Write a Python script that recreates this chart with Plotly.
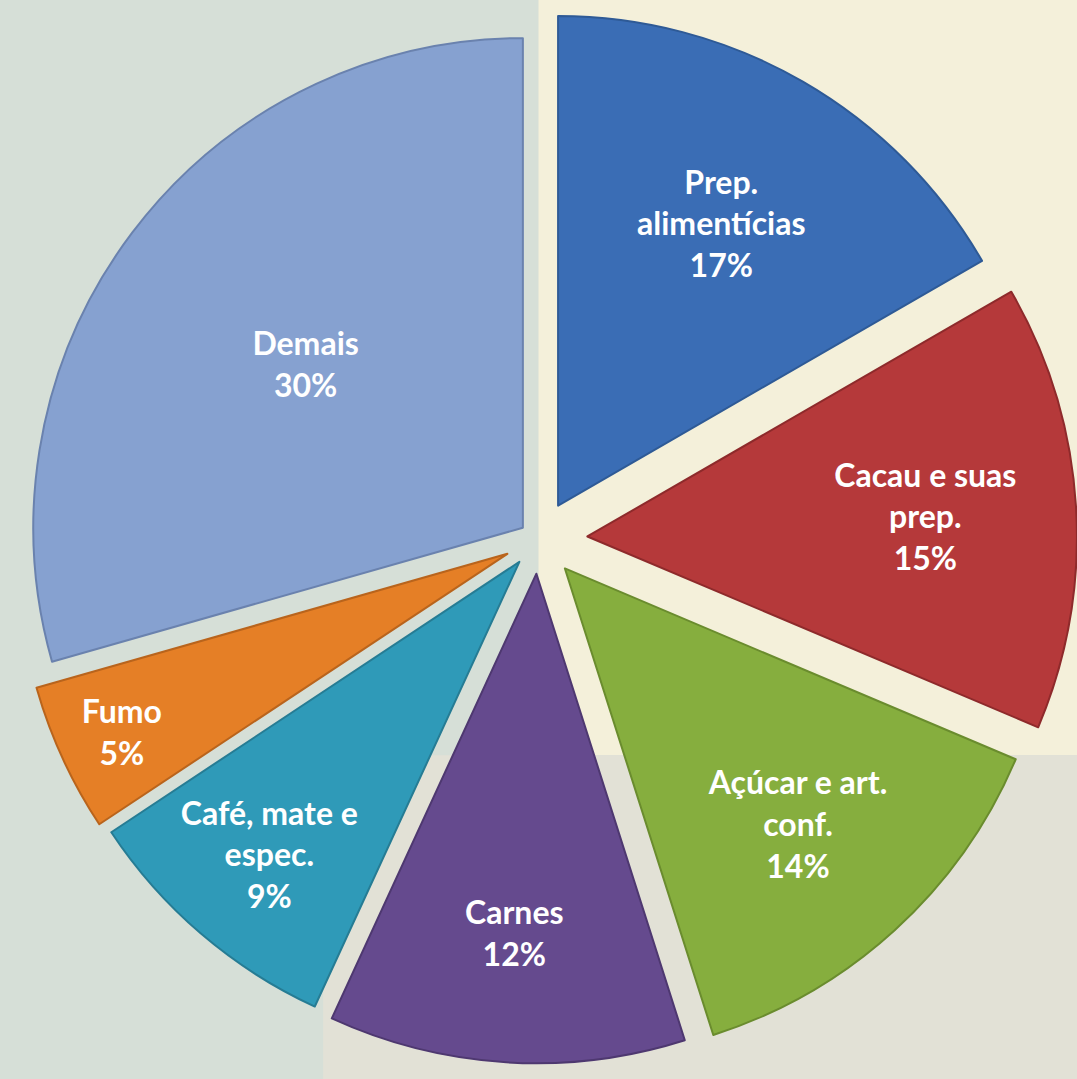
import plotly.graph_objects as go

categories = ["Prep.<br>alimentícias", "Cacau e suas<br>prep.", "Açúcar e art.<br>conf.",
              "Carnes", "Café, mate e<br>espec.", "Fumo", "Demais"]
values = [17, 15, 14, 12, 9, 5, 30]
pct_labels = ["17%", "15%", "14%", "12%", "9%", "5%", "30%"]
colors = ["#3A6DB5", "#B5393A", "#86AE3E", "#654A8E", "#2F9AB8", "#E57F26", "#86A1D0"]
edge_colors = ["#2E5A96", "#8E2A2B", "#6A8C2E", "#4E3870", "#267C94", "#B9641C", "#6A82AE"]
pulls = [0.08, 0.1, 0.08, 0.07, 0.06, 0.07, 0.04]

texts = [f"<b>{c}<br>{p}</b>" for c, p in zip(categories, pct_labels)]

fig = go.Figure(go.Pie(
    labels=[c.replace("<br>", " ") for c in categories],
    values=values,
    text=texts,
    textinfo="text",
    textposition="inside",
    insidetextorientation="horizontal",
    sort=False,
    direction="clockwise",
    rotation=0,
    pull=pulls,
    marker=dict(colors=colors, line=dict(color=edge_colors, width=2)),
    textfont=dict(family="Lato, Open Sans, sans-serif", size=32, color="white"),
    domain=dict(x=[0, 1], y=[0, 1]),
    showlegend=False,
    hoverinfo="label+percent",
))

fig.update_layout(
    width=1077, height=1079,
    margin=dict(l=0, r=0, t=0, b=0),
    paper_bgcolor="#D6DFD7",
    plot_bgcolor="#D6DFD7",
    uniformtext=dict(minsize=32, mode="show"),
    shapes=[
        dict(type="rect", xref="paper", yref="paper", x0=0.5, x1=1, y0=0.3, y1=1,
             fillcolor="#F4F0DA", line=dict(width=0), layer="below"),
        dict(type="rect", xref="paper", yref="paper", x0=0.3, x1=1, y0=0, y1=0.3,
             fillcolor="#E2E1D6", line=dict(width=0), layer="below"),
    ],
)

fig.write_html("out.html", config={"displayModeBar": False},
               post_script="document.body.style.margin='0';document.body.style.overflow='hidden';")
